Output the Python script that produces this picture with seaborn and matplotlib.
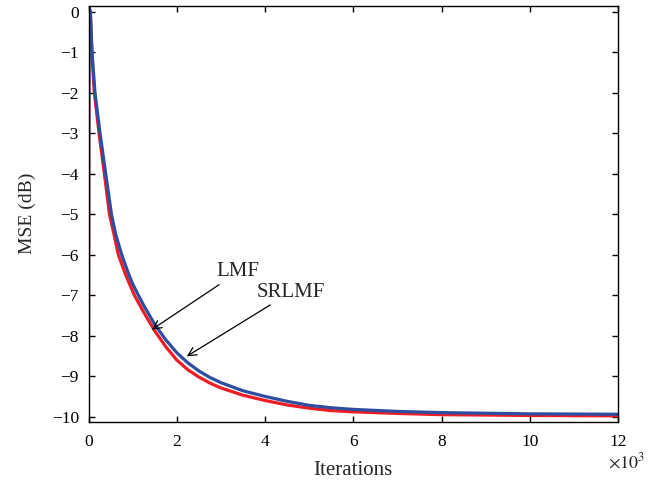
import numpy as np
import pandas as pd
import matplotlib
matplotlib.use("Agg")
import matplotlib.pyplot as plt
import seaborn as sns
from matplotlib.ticker import FuncFormatter

# Values (iterations, MSE in dB)
lmf_iter = [0, 10, 40, 75, 132, 238, 359, 475, 578, 676, 843, 1039, 1250, 1500,
            1750, 2000, 2250, 2500, 2750, 3000, 3500, 4000, 4500, 5000, 5500,
            6000, 7000, 8000, 10000, 12000]
lmf_mse = [-8.25, 0.15, 0.0, -1.0, -2.0, -3.0, -4.0, -5.0, -5.5, -6.0, -6.5, -7.0, -7.42, -7.88,
           -8.27, -8.6, -8.84, -9.02, -9.17, -9.29, -9.47, -9.6, -9.71, -9.79, -9.85,
           -9.88, -9.92, -9.95, -9.97, -9.98]

srlmf_iter = [0, 10, 43, 80, 147, 261, 390, 520, 617, 753, 900, 1000, 1129, 1250, 1500,
              1750, 2000, 2250, 2500, 2750, 3000, 3500, 4000, 4500, 5000, 5500,
              6000, 7000, 8000, 10000, 12000]
srlmf_mse = [-8.12, 0.1, 0.0, -1.0, -2.0, -3.0, -4.0, -5.0, -5.5, -6.0, -6.45, -6.72, -7.0, -7.25, -7.72,
             -8.1, -8.42, -8.67, -8.87, -9.03, -9.16, -9.36, -9.5, -9.62, -9.72, -9.78,
             -9.82, -9.87, -9.9, -9.93, -9.94]

x_ticks = [0, 2000, 4000, 6000, 8000, 10000, 12000]
y_ticks = [0, -1, -2, -3, -4, -5, -6, -7, -8, -9, -10]

sns.set_style("ticks")
plt.rcParams["font.family"] = ["Liberation Serif", "DejaVu Serif"]
plt.rcParams["mathtext.fontset"] = "stix"
plt.rcParams["axes.unicode_minus"] = True

fig = plt.figure(figsize=(6.7, 4.86), dpi=100)
ax = fig.add_axes([88.5 / 670, 1 - 421.7 / 486, (618 - 88.5) / 670, (421.7 - 5.7) / 486])

df_lmf = pd.DataFrame({"it": lmf_iter, "mse": lmf_mse})
df_sr = pd.DataFrame({"it": srlmf_iter, "mse": srlmf_mse})

sns.lineplot(data=df_lmf, x="it", y="mse", ax=ax, color="#ee1c24", lw=2.3,
             estimator=None, sort=False)
sns.lineplot(data=df_sr, x="it", y="mse", ax=ax, color="#2f4da0", lw=2.3,
             estimator=None, sort=False)

ax.set_xlim(0, 12000)
ax.set_ylim(-10.124, 0.148)
ax.set_xticks(x_ticks)
ax.set_yticks(y_ticks)
ax.xaxis.set_major_formatter(FuncFormatter(lambda v, p: f"{int(round(v / 1000))}"))
ax.yaxis.set_major_formatter(FuncFormatter(lambda v, p: f"{int(round(v))}".replace("-", "\u2212")))

ax.tick_params(direction="in", length=4, width=1, top=True, right=True,
               labelsize=12.5, colors="black")
ax.tick_params(axis="x", pad=9)
ax.tick_params(axis="y", pad=7)
for s in ax.spines.values():
    s.set_visible(True)
    s.set_color("black")
    s.set_linewidth(1.0)

ax.set_xlabel("Iterations", fontsize=15, labelpad=8)
ax.set_ylabel("MSE (dB)", fontsize=14, labelpad=11)

fig.text(608 / 670, 1 - 468 / 486, r"$\times10^{3}$", fontsize=13, ha="left", va="baseline")

arrow = dict(arrowstyle="->", color="black", lw=0.9, shrinkA=0, shrinkB=0)
ax.annotate("LMF", xy=(1433, -7.85), xytext=(2907, -6.66), fontsize=15,
            arrowprops=arrow, ha="left", va="bottom")
ax.annotate("SRLMF", xy=(2227, -8.51), xytext=(3814, -7.16), fontsize=15,
            arrowprops=arrow, ha="left", va="bottom")

fig.savefig("out.png", dpi=100)
